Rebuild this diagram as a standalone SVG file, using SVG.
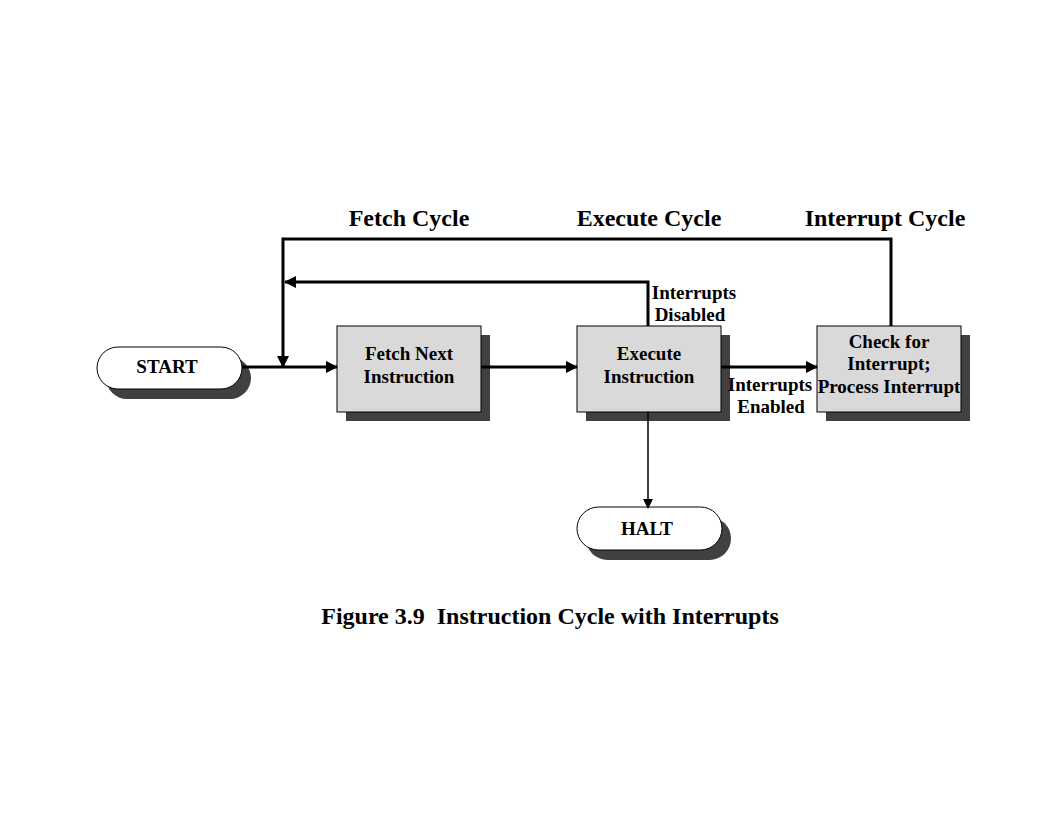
<svg xmlns="http://www.w3.org/2000/svg" width="1056" height="816" viewBox="0 0 1056 816">
<style>
.t{font-family:"Liberation Serif","Times New Roman",serif;font-weight:bold;fill:#000}
.n{font-size:19px;text-anchor:middle}
.h{font-size:24px;text-anchor:middle}
.box{fill:#d9d9d9;stroke:#000;stroke-width:1}
.pill{fill:#fff;stroke:#000;stroke-width:1}
.sh{fill:#404040}
.c{fill:none;stroke:#000;stroke-width:3}
.c1{fill:none;stroke:#000;stroke-width:1.5}
</style>
<defs>
<marker id="a" markerWidth="10" markerHeight="10" refX="9" refY="5" orient="auto" markerUnits="userSpaceOnUse" viewBox="0 0 10 10"><path d="M0,0 L10,5 L0,10 z" fill="#000"/></marker>
<marker id="b" markerWidth="12" markerHeight="12" refX="11" refY="6" orient="auto" markerUnits="userSpaceOnUse" viewBox="0 0 12 12"><path d="M0,0 L12,6 L0,12 z" fill="#000"/></marker>
</defs>
<rect width="1056" height="816" fill="#fff"/>
<g id="start">
<rect class="sh" x="106" y="357" width="145" height="42" rx="21"/>
<rect class="pill" x="97" y="347" width="145" height="42" rx="21"/>
<text class="t n" x="167" y="373">START</text>
</g>
<g id="fetch">
<rect class="sh" x="346" y="335" width="144" height="86"/>
<rect class="box" x="337" y="326" width="144" height="86"/>
<text class="t n" x="409" y="360">Fetch Next</text>
<text class="t n" x="409" y="383">Instruction</text>
</g>
<g id="execute">
<rect class="sh" x="586" y="335" width="144" height="86"/>
<rect class="box" x="577" y="326" width="144" height="86"/>
<text class="t n" x="649" y="360">Execute</text>
<text class="t n" x="649" y="383">Instruction</text>
</g>
<g id="interrupt">
<rect class="sh" x="826" y="335" width="144" height="86"/>
<rect class="box" x="817" y="326" width="144" height="86"/>
<text class="t n" x="889" y="348">Check for</text>
<text class="t n" x="889" y="370">Interrupt;</text>
<text class="t n" x="889" y="393">Process Interrupt</text>
</g>
<g id="halt">
<rect class="sh" x="586" y="517" width="145" height="43" rx="21.5"/>
<rect class="pill" x="577" y="507" width="145" height="43" rx="21.5"/>
<text class="t n" x="647" y="535">HALT</text>
</g>
<g id="connectors">
<path class="c" d="M242,367 H337" marker-end="url(#b)"/>
<path class="c" d="M481,367 H577" marker-end="url(#b)"/>
<path class="c" d="M721,367 H817" marker-end="url(#b)"/>
<path class="c" d="M891,326 V239 H283 V367" marker-end="url(#b)"/>
<path class="c" d="M648,326 V282 H285" marker-end="url(#b)"/>
<path class="c1" d="M648,412 V508" marker-end="url(#a)"/>
</g>
<g id="labels">
<text class="t h" x="409" y="226">Fetch Cycle</text>
<text class="t h" x="649" y="226">Execute Cycle</text>
<text class="t h" x="885" y="226">Interrupt Cycle</text>
<text class="t n" x="694" y="299">Interrupts</text>
<text class="t n" x="690" y="321">Disabled</text>
<text class="t n" x="770" y="391">Interrupts</text>
<text class="t n" x="771" y="413">Enabled</text>
<text class="t h" x="550" y="624" xml:space="preserve">Figure 3.9  Instruction Cycle with Interrupts</text>
</g>
</svg>
